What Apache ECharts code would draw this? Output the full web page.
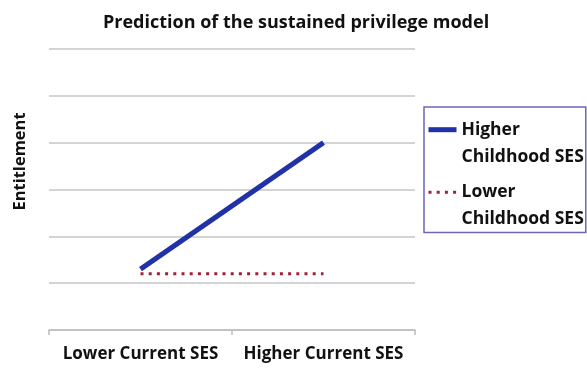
<!DOCTYPE html>
<html>
<head>
<meta charset="utf-8">
<script src="https://cdn.jsdelivr.net/npm/echarts@6/dist/echarts.min.js"></script>
<style>
  html, body { margin: 0; padding: 0; background: #ffffff; }
  #chart { width: 587px; height: 375px; }
</style>
</head>
<body>
<div id="chart"></div>
<script>
// Current SES groups along the x axis
const categories = ['Lower Current SES', 'Higher Current SES'];
// Predicted entitlement for each childhood SES group
const higherChildhood = [1.3, 4];
const lowerChildhood = [1.2, 1.2];
// Series names shown in the legend (two lines each)
const seriesNames = ['Higher Childhood SES', 'Lower Childhood SES'];
const legendLines = {
  'Higher Childhood SES': ['Higher', 'Childhood SES'],
  'Lower Childhood SES': ['Lower', 'Childhood SES']
};

const FONT = '"Open Sans"';
const BLUE = '#2131a6';
const RED = '#a31f36';
const LEGEND_SIZE = 17.5;

const chart = echarts.init(document.getElementById('chart'), null, { renderer: 'canvas' });

chart.setOption({
  backgroundColor: '#ffffff',
  animation: false,
  title: {
    text: 'Prediction of the sustained privilege model',
    left: 98,
    top: 9,
    textStyle: { fontFamily: FONT, fontWeight: 'bold', fontSize: 18, color: '#111111' }
  },
  legend: {
    orient: 'vertical',
    left: 424,
    top: 107,
    // the empty first row of each entry is pulled back inside the frame
    padding: [-13.3, 2, 4.3, 2],
    itemGap: -9.5,
    itemWidth: 28,
    itemHeight: 14,
    borderColor: '#6d66b5',
    borderWidth: 1.5,
    backgroundColor: '#ffffff',
    itemStyle: { opacity: 0 },
    data: [
      { name: seriesNames[0], lineStyle: { width: 5 } },
      { name: seriesNames[1], lineStyle: { width: 3 } }
    ],
    // an empty first row keeps the icon level with the first line of text
    formatter: function (name) {
      const lines = legendLines[name];
      return '{e|}\n{t|' + lines[0] + '}\n{t|' + lines[1] + '}';
    },
    textStyle: {
      fontFamily: FONT,
      fontWeight: 'bold',
      fontSize: LEGEND_SIZE,
      color: '#111111',
      rich: {
        e: { lineHeight: 27, fontSize: LEGEND_SIZE },
        t: { lineHeight: 27, fontFamily: FONT, fontWeight: 'bold', fontSize: LEGEND_SIZE, color: '#111111' }
      }
    }
  },
  grid: { left: 49, right: 172, top: 49, bottom: 45 },
  xAxis: {
    type: 'category',
    data: categories,
    boundaryGap: true,
    axisLine: { show: true, lineStyle: { color: '#bdbdbd', width: 1.5 } },
    axisTick: { show: true, length: 5, lineStyle: { color: '#bdbdbd', width: 1.5 } },
    axisLabel: { interval: 0, margin: 16, fontFamily: FONT, fontWeight: 'bold', fontSize: 17, color: '#111111' }
  },
  yAxis: {
    type: 'value',
    min: 0,
    max: 6,
    interval: 1,
    name: 'Entitlement',
    nameLocation: 'middle',
    nameRotate: 90,
    nameGap: 20,
    nameTextStyle: {
      fontFamily: FONT, fontWeight: 'bold', fontSize: 16.5, color: '#111111',
      padding: [0, 0, 0, 56]
    },
    axisLine: { show: false },
    axisTick: { show: false },
    axisLabel: { show: false },
    splitLine: { show: true, lineStyle: { color: '#c6c6c6', width: 1.5 } }
  },
  series: [
    {
      name: seriesNames[0],
      type: 'line',
      data: higherChildhood,
      showSymbol: false,
      symbol: 'none',
      lineStyle: { color: BLUE, width: 5 },
      itemStyle: { color: BLUE }
    },
    {
      name: seriesNames[1],
      type: 'line',
      data: lowerChildhood,
      showSymbol: false,
      symbol: 'none',
      lineStyle: { color: RED, width: 3, type: [3, 5.2] },
      itemStyle: { color: RED }
    }
  ]
});
</script>
</body>
</html>
